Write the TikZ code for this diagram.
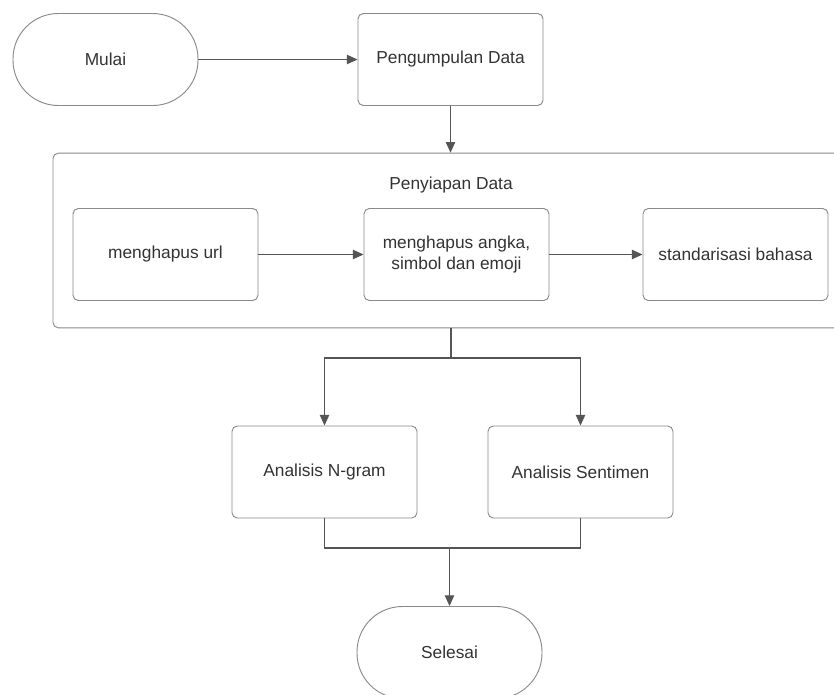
\documentclass[tikz,border=0pt]{standalone}
\usepackage{fontspec}
\setmainfont{Liberation Sans}
\usetikzlibrary{arrows.meta}
\definecolor{linegray}{HTML}{555555}
\definecolor{boxgray}{HTML}{8A8A8A}
\definecolor{txtgray}{HTML}{333333}
\begin{document}
\begin{tikzpicture}[x=0.75pt,y=-0.75pt,
  every node/.style={font=\fontsize{13}{15.6}\selectfont,text=txtgray,align=center},
  proc/.style={draw=boxgray,line width=0.7pt,rounded corners=4pt,minimum width=138.75pt,minimum height=69pt},
  term/.style={proc,rounded corners=34pt},
  arr/.style={draw=linegray,line width=0.9pt,-{Triangle[length=8pt,width=7pt]}},
  con/.style={draw=linegray,line width=0.9pt}]
\useasboundingbox (0,0) rectangle (834,694);
\fill[white] (0,0) rectangle (834,694);
\node[term] (mulai) at (105.5,59.5) {Mulai};
\node[proc] (kumpul) at (450.5,59.5) {Pengumpulan Data};
\node[proc,minimum width=597pt,minimum height=131pt] (siap) at (451,240.5) {};
\node[draw=none] (siaplbl) at (451,185) {Penyiapan Data};
\node[proc] (url) at (165.5,254.5) {menghapus url};
\node[proc] (angka) at (456.5,254.5) {menghapus angka,\\simbol dan emoji};
\node[proc] (baku) at (735.5,254.5) {standarisasi bahasa};
\node[proc] (ngram) at (324.5,472) {Analisis N-gram};
\node[proc] (senti) at (580.5,472) {Analisis Sentimen};
\node[term] (selesai) at (449.5,652.5) {Selesai};
\coordinate (bagi) at (451,358);
\coordinate (gabung) at (449.5,548);
\draw[arr] (mulai) -- (kumpul);
\draw[arr] (kumpul) -- (siap.north -| kumpul);
\draw[arr] (url) -- (angka);
\draw[arr] (angka) -- (baku);
\draw[con] (siap.south) -- (bagi);
\draw[arr] (bagi) -| (ngram.north);
\draw[arr] (bagi) -| (senti.north);
\draw[con] (ngram.south) |- (gabung) -| (senti.south);
\draw[arr] (gabung) -- (selesai);
\end{tikzpicture}
\end{document}
